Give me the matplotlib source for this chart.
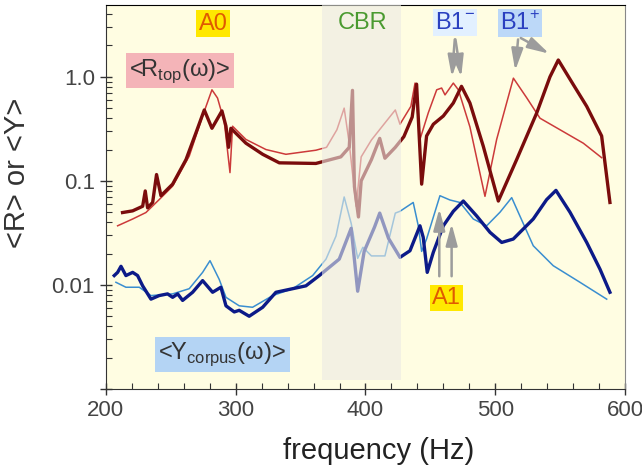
import numpy as np
import matplotlib.pyplot as plt
from matplotlib.ticker import MultipleLocator, LogLocator, NullFormatter, FixedLocator, FixedFormatter

plt.rcParams['font.family'] = ['Liberation Sans', 'DejaVu Sans']
plt.rcParams['mathtext.fontset'] = 'custom'
plt.rcParams['mathtext.rm'] = 'Liberation Sans'

# <R_top> thick (dark red)
r_thick_f = [212.8, 220.6, 228.3, 230.3, 232.1, 236, 239, 242.4, 251.4, 261.7, 269.4, 275.8, 281.7, 289.4,
             292.5, 294.5, 296.3, 307.9, 320.8, 333.6, 361.8, 381, 387.5, 390, 391.5, 394.6, 396.7,
             404.6, 411, 415, 423, 429.6, 436, 439.4, 443.3, 447.1, 452.3, 460, 467.7, 474, 480.5,
             490.8, 502.4, 516.5, 532, 542.2, 548.6, 560.2, 570.5, 582, 588.4]
r_thick_v = [0.0496, 0.0515, 0.057, 0.080, 0.055, 0.062, 0.115, 0.072, 0.093, 0.16, 0.29, 0.48, 0.32, 0.47,
             0.335, 0.21, 0.32, 0.23, 0.18, 0.149, 0.147, 0.17, 0.21, 0.74, 0.088, 0.045, 0.10,
             0.16, 0.256, 0.165, 0.21, 0.266, 0.41, 0.85, 0.093, 0.27, 0.35, 0.42, 0.56, 0.81, 0.56,
             0.215, 0.064, 0.16, 0.45, 1.0, 1.45, 0.84, 0.52, 0.27, 0.062]

# <R_top> thin (red)
r_thin_f = [209, 220.6, 230.8, 241, 251.4, 264.2, 274.5, 281.7, 286, 291.2, 295.6, 297.6, 307.9, 323.3,
            338.7, 361.8, 370, 378, 383.6, 387.5, 392.8, 396.7, 404.6, 415, 423, 426.6, 435, 438.2,
            442, 448.4, 454.9, 458.7, 461.3, 467.7, 471.6, 480.5, 492.1, 501.1, 514, 524.2, 534.5,
            549.9, 567.9, 582]
r_thin_v = [0.037, 0.043, 0.0496, 0.066, 0.089, 0.173, 0.42, 0.75, 0.625, 0.37, 0.12, 0.335, 0.25, 0.20,
            0.18, 0.197, 0.21, 0.31, 0.50, 0.23, 0.057, 0.17, 0.247, 0.36, 0.48, 0.35, 0.52, 0.87,
            0.25, 0.45, 0.75, 0.78, 0.67, 0.87, 0.75, 0.33, 0.071, 0.25, 0.97, 0.63, 0.40,
            0.31, 0.23, 0.167]

# <Y_corpus> thick (navy)
y_thick_f = [206.4, 209, 211.6, 215.4, 220.6, 224.4, 228.3, 234.7, 241, 247.5, 251.4, 255.3, 259.1,
             266.8, 274.5, 282.2, 288.6, 292.5, 298.9, 302.7, 310.4, 320.8, 331, 343.9, 354.1, 364.4,
             379.8, 389, 394, 399, 407, 411, 417.8, 426.6, 434.3, 442, 444.5, 447.6, 452.3, 460,
             467.7, 475.4, 485.7, 496, 505, 513.9, 529.3, 539.6, 546.8, 557.6, 570.5, 580.7, 588.4]
y_thick_v = [0.0123, 0.0132, 0.0151, 0.0123, 0.0132, 0.0123, 0.0098, 0.0073, 0.0079, 0.0082, 0.0076,
             0.0082, 0.0071, 0.0085, 0.011, 0.0085, 0.0095, 0.0063, 0.0055, 0.0057, 0.0050, 0.0061,
             0.0085, 0.0092, 0.0098, 0.0123, 0.0177, 0.035, 0.0087, 0.021, 0.036, 0.049, 0.028,
             0.0184, 0.0213, 0.037, 0.0287, 0.0132, 0.0206, 0.037, 0.051, 0.064, 0.046, 0.032, 0.0256,
             0.0276, 0.043, 0.066, 0.081, 0.05, 0.0256, 0.0142, 0.0085]

# <Y_corpus> thin (light blue)
y_thin_f = [207.7, 215.4, 225.7, 234.7, 251.4, 264.2, 274.5, 280.2, 287.3, 292.5, 302.7, 313, 328.5,
            343.9, 359.3, 369.6, 377.3, 383.6, 389, 394, 398, 404.6, 415, 423, 426.6, 436.8, 440.7,
            443.3, 447.1, 457.4, 465.1, 472.8, 483.1, 493.4, 503.7, 512.7, 519, 529.3, 544.7, 565.3,
            585.9]
y_thin_v = [0.0106, 0.0095, 0.0095, 0.0079, 0.0082, 0.0092, 0.0132, 0.0171, 0.0113, 0.0076, 0.0063,
            0.0061, 0.0079, 0.0092, 0.0123, 0.0177, 0.0295, 0.070, 0.039, 0.018, 0.023, 0.019, 0.019,
            0.049, 0.051, 0.062, 0.037, 0.021, 0.0276, 0.072, 0.0655, 0.062, 0.043, 0.037, 0.05,
            0.069, 0.046, 0.0238, 0.0153, 0.0106, 0.0073]

cbr_band = (366.5, 427.5)

fig = plt.figure(figsize=(6.42, 4.69), dpi=100)
ax = fig.add_axes([0.165, 0.1706, 0.8085, 0.8188])
ax.set_facecolor('#fffde2')

ax.plot(r_thin_f, r_thin_v, color='#cc3a3a', lw=1.1, zorder=3)
ax.plot(r_thick_f, r_thick_v, color='#7a0c0c', lw=2.4, zorder=4)
ax.plot(y_thin_f, y_thin_v, color='#3a8ed0', lw=1.1, zorder=3)
ax.plot(y_thick_f, y_thick_v, color='#0c1a88', lw=2.4, zorder=4)

ax.axvspan(cbr_band[0], cbr_band[1], ymin=0.023, ymax=1, color='#ebeae4', alpha=0.6, lw=0, zorder=5)

ax.set_yscale('log')
ax.set_xlim(200, 600)
ax.set_ylim(0.001, 4.9)

ax.xaxis.set_major_locator(MultipleLocator(100))
ax.xaxis.set_minor_locator(MultipleLocator(20))
ax.yaxis.set_major_locator(FixedLocator([0.001, 0.01, 0.1, 1.0]))
ax.yaxis.set_major_formatter(FixedFormatter(['', '0.01', '0.1', '1.0']))
ax.yaxis.set_minor_locator(LogLocator(base=10, subs=np.arange(2, 10)))
ax.yaxis.set_minor_formatter(NullFormatter())
ax.tick_params(which='major', direction='inout', length=9, width=1, labelsize=16,
               colors='#333333', labelcolor='#444444')
ax.tick_params(which='minor', direction='in', length=4, width=0.8, colors='#333333')
for s in ax.spines.values():
    s.set_color('#333333')
ax.spines['top'].set_color('black')
ax.spines['right'].set_color('#888888')

ax.set_xlabel('frequency (Hz)', fontsize=21, color='#222222')
ax.xaxis.set_label_coords(0.526, -0.125)
ax.set_ylabel('<R> or <Y>', fontsize=21, color='#333333')
ax.yaxis.set_label_coords(-0.145, 0.5625)

# labels
ax.text(282.5, 3.25, 'A0', fontsize=17, color='#e05a00', ha='center', va='center', zorder=6,
        bbox=dict(boxstyle='square,pad=0.1', fc='#ffe800', ec='none'))
ax.text(398, 3.3, 'CBR', fontsize=17, color='#4a9a30', ha='center', va='center', zorder=6)
ax.text(469, 3.3, 'B1$^{-}$', fontsize=17, color='#2a40c0', ha='center', va='center', zorder=6,
        bbox=dict(boxstyle='square,pad=0.1', fc='#e2f0ff', ec='none'))
ax.text(519, 3.3, 'B1$^{+}$', fontsize=17, color='#2a40c0', ha='center', va='center', zorder=6,
        bbox=dict(boxstyle='square,pad=0.1', fc='#bcd8f8', ec='none'))
ax.text(257, 1.14, r'<R$_{\mathregular{top}}$(ω)>', fontsize=17, color='#333333',
        ha='center', va='center', zorder=6,
        bbox=dict(boxstyle='square,pad=0.15', fc='#f4b4b8', ec='none'))
ax.text(289.6, 0.00214, r'<Y$_{\mathregular{corpus}}$(ω)>', fontsize=17, color='#333333',
        ha='center', va='center', zorder=6,
        bbox=dict(boxstyle='square,pad=0.15', fc='#b4d4f4', ec='none'))
ax.text(462.6, 0.0075, 'A1', fontsize=17, color='#e05a00', ha='center', va='center', zorder=6,
        bbox=dict(boxstyle='square,pad=0.1', fc='#ffe800', ec='none'))

arrow = dict(arrowstyle='-|>,head_width=0.35,head_length=1.3', color='#9c9c9c', lw=1.8)
for tip in [(466.4, 0.94), (474.1, 0.94)]:
    ax.annotate('', xy=tip, xytext=(469, 2.43), arrowprops=arrow, zorder=6)
for tip in [(515.2, 1.08), (543.5, 1.62)]:
    ax.annotate('', xy=tip, xytext=(517.8, 2.43), arrowprops=arrow, zorder=6)
ax.annotate('', xy=(456.9, 0.0574), xytext=(456.9, 0.0114), arrowprops=arrow, zorder=6)
ax.annotate('', xy=(466.4, 0.0412), xytext=(466.4, 0.0114), arrowprops=arrow, zorder=6)

fig.savefig('out.png', dpi=100)
